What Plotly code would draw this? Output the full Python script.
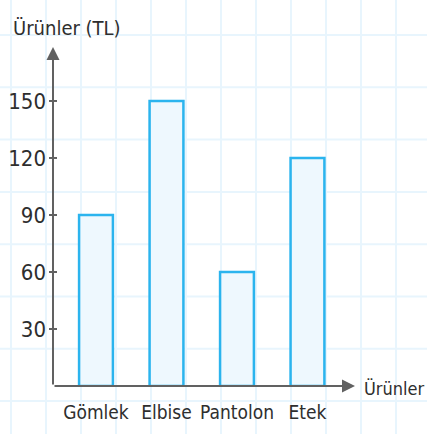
import plotly.graph_objects as go

categories = ["Gömlek", "Elbise", "Pantolon", "Etek"]
values = [90, 150, 60, 120]
y_ticks = [30, 60, 90, 120, 150]
y_title = "Ürünler (TL)"
x_title = "Ürünler"

W, H = 427, 434
ML, MR, MT, MB = 53, 72, 47, 48
PW, PH = W - ML - MR, H - MT - MB

def px_x(px):  # page pixel -> paper x
    return (px - ML) / PW

def px_y(py):  # page pixel -> paper y
    return (H - MB - py) / PH

FONT = "DejaVu Sans Condensed, Roboto Condensed, Roboto, sans-serif"
AXC = "#616161"
TXT = "#2e2e2e"

fig = go.Figure()
fig.add_trace(go.Bar(
    x=categories, y=values, width=0.48,
    marker=dict(color="#eef8fe", line=dict(color="#2bb4ee", width=2.5)),
    hoverinfo="skip",
))

shapes = []
# graph-paper background grid
gx = 11
while gx < W:
    shapes.append(dict(type="line", xref="paper", yref="paper", layer="below",
                       x0=px_x(gx), x1=px_x(gx), y0=px_y(-2), y1=px_y(H + 2),
                       line=dict(color="#e8f5fd", width=2)))
    gx += 35
gy = 35
while gy < H:
    shapes.append(dict(type="line", xref="paper", yref="paper", layer="below",
                       x0=px_x(-2), x1=px_x(W + 2), y0=px_y(gy), y1=px_y(gy),
                       line=dict(color="#e8f5fd", width=2)))
    gy += 52.3
# y tick marks straddling the axis
for t in y_ticks:
    shapes.append(dict(type="line", xref="paper", yref="y",
                       x0=px_x(49), x1=px_x(57), y0=t, y1=t,
                       line=dict(color=AXC, width=2)))

annotations = [
    dict(xref="paper", yref="paper", axref="pixel", ayref="pixel",
         x=1, y=0, ax=-PW, ay=0, text="", showarrow=True,
         arrowhead=2, arrowsize=1.3, arrowwidth=2, arrowcolor=AXC, standoff=0),
    dict(xref="paper", yref="paper", axref="pixel", ayref="pixel",
         x=0, y=1, ax=0, ay=PH, text="", showarrow=True,
         arrowhead=2, arrowsize=1.3, arrowwidth=2, arrowcolor=AXC, standoff=0),
    dict(xref="paper", yref="paper", x=px_x(11), y=px_y(28),
         xanchor="left", yanchor="middle", text=y_title, showarrow=False,
         font=dict(family=FONT, size=20, color=TXT)),
    dict(xref="paper", yref="paper", x=px_x(362), y=px_y(388),
         xanchor="left", yanchor="middle", text=x_title, showarrow=False,
         font=dict(family=FONT, size=18, color=TXT)),
]

fig.update_layout(
    width=W, height=H,
    margin=dict(l=ML, r=MR, t=MT, b=MB, pad=0),
    paper_bgcolor="white", plot_bgcolor="rgba(0,0,0,0)",
    showlegend=False, bargap=0.5,
    shapes=shapes, annotations=annotations,
    xaxis=dict(type="category", range=[-0.61, 3.674], showgrid=False,
               showline=False, zeroline=False, ticks="", tickangle=0,
               automargin=False,
               tickfont=dict(family=FONT, size=19, color=TXT),
               ticklabelstandoff=13, fixedrange=True),
    yaxis=dict(range=[0, 178.4], tickvals=y_ticks, showgrid=False,
               showline=False, zeroline=False, ticks="",
               automargin=False,
               tickfont=dict(family=FONT, size=22, color=TXT),
               ticklabelstandoff=6, fixedrange=True),
)

fig.write_html("out.html", config={"displayModeBar": False},
               post_script="document.body.style.margin='0';document.body.style.overflow='hidden';")
